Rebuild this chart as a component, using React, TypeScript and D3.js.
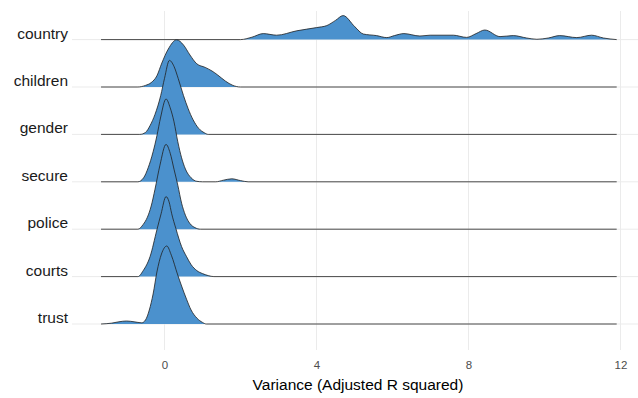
import React, { useEffect, useRef } from "react";
import * as d3 from "d3";

const width = 638;
const height = 398;
const font = "'Liberation Sans', Arial, sans-serif";
const fillColor = "#4b91cd";

// rows from bottom to top
const categories = ["trust", "courts", "police", "secure", "gender", "children", "country"];
const xTicks = [0, 4, 8, 12];
const xMin = -1.67;
const xMax = 11.9;

// density estimates: [value, density]
const trust: [number, number][] = [
  [xMin, 0], [-1.4, 0.02], [-1.2, 0.055], [-1.0, 0.075], [-0.8, 0.055], [-0.6, 0.03],
  [-0.5, 0.1], [-0.4, 0.35], [-0.3, 0.75], [-0.2, 1.3], [-0.08, 1.75], [0.06, 1.95],
  [0.18, 1.72], [0.34, 1.25], [0.45, 0.95], [0.58, 0.62], [0.7, 0.35], [0.85, 0.15],
  [1.0, 0.04], [1.1, 0], [xMax, 0],
];
const courts: [number, number][] = [
  [xMin, 0], [-0.7, 0], [-0.56, 0.15], [-0.38, 0.5], [-0.2, 1.17], [-0.09, 1.57],
  [0.04, 2.0], [0.12, 1.87], [0.19, 1.57], [0.3, 1.2], [0.45, 0.75], [0.58, 0.5],
  [0.7, 0.3], [0.85, 0.15], [1.0, 0.075], [1.15, 0.025], [1.3, 0], [xMax, 0],
];
const police: [number, number][] = [
  [xMin, 0], [-0.7, 0], [-0.56, 0.12], [-0.45, 0.3], [-0.35, 0.58], [-0.25, 1.0],
  [-0.12, 1.6], [0.04, 2.12], [0.15, 1.9], [0.25, 1.5], [0.35, 1.1], [0.45, 0.65],
  [0.55, 0.35], [0.67, 0.14], [0.8, 0.04], [0.95, 0], [xMax, 0],
];
const secure: [number, number][] = [
  [xMin, 0], [-0.7, 0], [-0.55, 0.1], [-0.43, 0.35], [-0.3, 0.75], [-0.2, 1.15],
  [-0.1, 1.62], [0.04, 2.07], [0.15, 1.85], [0.25, 1.5], [0.35, 1.0], [0.45, 0.6],
  [0.55, 0.32], [0.7, 0.1], [0.85, 0.012], [1.0, 0], [1.35, 0], [1.55, 0.04],
  [1.77, 0.075], [2.0, 0.03], [2.2, 0], [xMax, 0],
];
const gender: [number, number][] = [
  [xMin, 0], [-0.65, 0], [-0.5, 0.05], [-0.38, 0.22], [-0.25, 0.5], [-0.1, 0.97],
  [0.0, 1.4], [0.13, 1.85], [0.25, 1.7], [0.36, 1.4], [0.5, 0.97], [0.62, 0.65],
  [0.75, 0.37], [0.9, 0.15], [1.05, 0.04], [1.15, 0], [xMax, 0],
];
const children: [number, number][] = [
  [xMin, 0], [-0.7, 0], [-0.5, 0.04], [-0.35, 0.11], [-0.2, 0.28], [-0.07, 0.6],
  [0.1, 0.95], [0.32, 1.18], [0.5, 1.05], [0.67, 0.8], [0.85, 0.58], [1.07, 0.49],
  [1.25, 0.4], [1.4, 0.3], [1.6, 0.15], [1.8, 0.04], [2.0, 0], [xMax, 0],
];
const country: [number, number][] = [
  [xMin, 0], [2.0, 0], [2.3, 0.06], [2.6, 0.15], [2.95, 0.11], [3.48, 0.22],
  [4.0, 0.3], [4.27, 0.35], [4.5, 0.48], [4.7, 0.6], [5.01, 0.32], [5.23, 0.14],
  [5.58, 0.1], [5.85, 0.05], [6.05, 0.1], [6.3, 0.15], [6.72, 0.09], [6.99, 0.11],
  [7.6, 0.11], [7.95, 0.055], [8.2, 0.15], [8.43, 0.24], [8.83, 0.075], [9.18, 0.1],
  [9.53, 0.04], [9.8, 0.008], [10.1, 0.04], [10.4, 0.1], [10.85, 0.05], [11.24, 0.11],
  [11.55, 0.04], [xMax, 0],
];
const densities: Record<string, [number, number][]> = {
  trust, courts, police, secure, gender, children, country,
};

const App = () => {
  const svgRef = useRef<SVGSVGElement>(null);

  useEffect(() => {
    const svg = d3.select(svgRef.current);
    svg.selectAll("*").remove();

    const panelLeft = 72, panelRight = 638, panelTop = 11, panelBottom = 350;

    const x = d3.scaleLinear().domain([0, 12]).range([164.5, 620.5]);
    const y = d3.scalePoint<string>().domain(categories).range([324, 39.6]);
    const h = d3.scaleLinear().domain([0, 1]).range([0, 40]);

    // grid
    const grid = svg.append("g");
    grid.selectAll("line.h")
      .data(categories)
      .enter()
      .append("line")
      .attr("x1", panelLeft)
      .attr("x2", panelRight)
      .attr("y1", d => y(d)!)
      .attr("y2", d => y(d)!)
      .attr("stroke", "#ebebeb")
      .attr("stroke-width", 1);
    grid.selectAll("line.v")
      .data(xTicks)
      .enter()
      .append("line")
      .attr("x1", d => x(d))
      .attr("x2", d => x(d))
      .attr("y1", panelTop)
      .attr("y2", panelBottom)
      .attr("stroke", "#ebebeb")
      .attr("stroke-width", 1);

    // ridges, top row first so the lower ones sit on top
    const ridges = svg.append("g");
    const drawOrder = categories.slice().reverse();
    drawOrder.forEach(cat => {
      const base = y(cat)!;
      const area = d3.area<[number, number]>()
        .x(d => x(d[0]))
        .y0(base)
        .y1(d => base - h(d[1]))
        .curve(d3.curveMonotoneX);
      const line = d3.line<[number, number]>()
        .x(d => x(d[0]))
        .y(d => base - h(d[1]))
        .curve(d3.curveMonotoneX);
      const g = ridges.append("g");
      g.append("path")
        .attr("d", area(densities[cat]))
        .attr("fill", fillColor);
      g.append("path")
        .attr("d", line(densities[cat]))
        .attr("fill", "none")
        .attr("stroke", "#1f1f1f")
        .attr("stroke-width", 0.8);
    });

    // y labels
    svg.append("g")
      .selectAll("text")
      .data(categories)
      .enter()
      .append("text")
      .attr("x", 68)
      .attr("y", d => y(d)! - 1)
      .attr("text-anchor", "end")
      .attr("font-family", font)
      .attr("font-size", 15.5)
      .attr("fill", "#1a1a1a")
      .text(d => d);

    // x axis
    const axis = svg.append("g")
      .attr("transform", `translate(0,${panelBottom})`)
      .call(d3.axisBottom(x).tickValues(xTicks).tickSize(0).tickPadding(11));
    axis.select(".domain").remove();
    axis.selectAll("text")
      .attr("font-family", font)
      .attr("font-size", 11.5)
      .attr("fill", "#4d4d4d");

    svg.append("text")
      .attr("x", 358)
      .attr("y", 390)
      .attr("text-anchor", "middle")
      .attr("font-family", font)
      .attr("font-size", 15.5)
      .attr("fill", "#000")
      .text("Variance (Adjusted R squared)");
  }, []);

  return (
    <svg
      ref={svgRef}
      width={width}
      height={height}
      style={{ position: "absolute", left: 0, top: 0, background: "#fff" }}
    />
  );
};

export default App;
